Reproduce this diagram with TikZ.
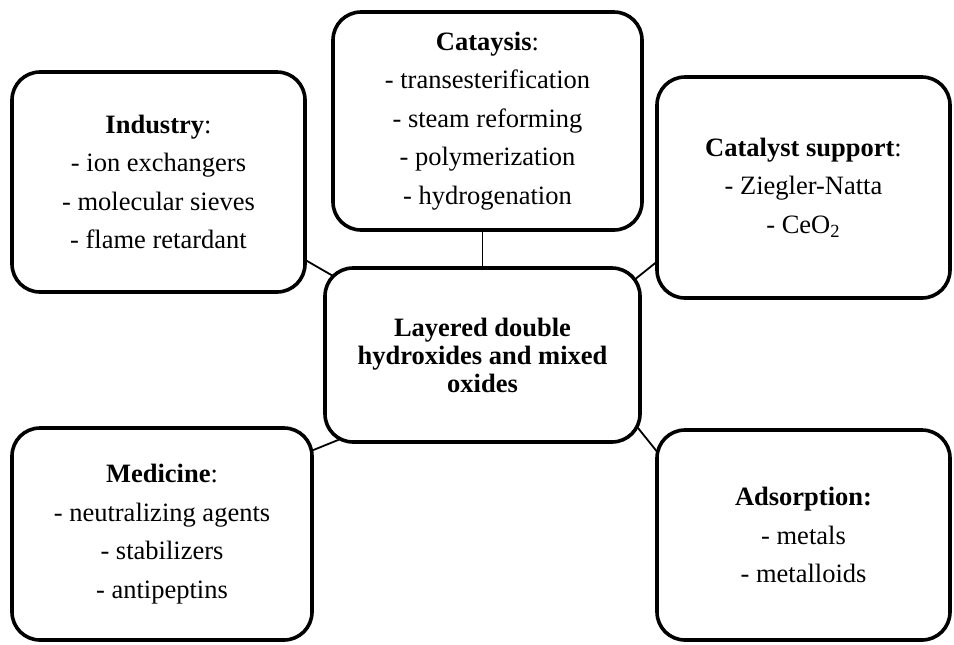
\documentclass[tikz,border=0pt]{standalone}
\usepackage{fontspec}
\setmainfont{Liberation Serif}
\pgfdeclarelayer{background}
\pgfsetlayers{background,main}
\tikzset{
  boxnode/.style={draw=black, line width=1.8pt, rounded corners=14pt, fill=white,
    inner sep=0pt, align=center,
    font=\fontsize{13.25pt}{19.25pt}\selectfont},
  centrenode/.style={boxnode, font=\fontsize{13.25pt}{14pt}\selectfont\bfseries},
  conn/.style={draw=black, line width=0.9pt, shorten <=-8pt, shorten >=-8pt}
}
\begin{document}
\begin{tikzpicture}[x=0.5pt,y=-0.5pt]
\useasboundingbox (0,0) rectangle (954,644);
\node[boxnode, minimum width=146.5pt, minimum height=110pt] (ind) at (158.5,182)
  {\textbf{Industry}:\\- ion exchangers\\- molecular sieves\\- flame retardant};
\node[boxnode, minimum width=154.5pt, minimum height=109pt] (cat) at (487.5,121)
  {\textbf{Cataysis}:\\- transesterification\\- steam reforming\\- polymerization\\- hydrogenation};
\node[boxnode, minimum width=146.5pt, minimum height=110.5pt] (sup) at (803.5,187.5)
  {\textbf{Catalyst support}:\\- Ziegler-Natta\\- CeO\textsubscript{2}};
\node[centrenode, minimum width=157.5pt, minimum height=87pt] (cen) at (482.5,355)
  {Layered double\\hydroxides and mixed\\oxides};
\node[boxnode, minimum width=150pt, minimum height=106pt] (med) at (162,534)
  {\textbf{Medicine}:\\- neutralizing agents\\- stabilizers\\- antipeptins};
\node[boxnode, minimum width=146.5pt, minimum height=105pt] (ads) at (803.5,535)
  {\textbf{Adsorption:}\\- metals\\- metalloids};
\begin{pgfonlayer}{background}
\draw[conn] (ind.-28.6) -- (cen.152.2);
\draw[conn] (cen.north) -- (cen.north |- cat.south);
\draw[conn] (sup.207.9) -- (cen.27.5);
\draw[conn] (med.29.2) -- (cen.-150.9);
\draw[conn] (ads.150.5) -- (cen.-26.9);
\end{pgfonlayer}
\end{tikzpicture}
\end{document}
